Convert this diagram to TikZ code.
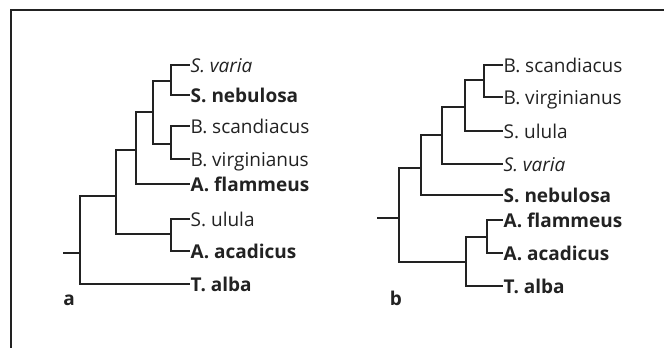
\documentclass[tikz,border=0pt]{standalone}
\usepackage{fontspec}
\setmainfont{Open Sans}
\usepackage{xcolor}
\definecolor{treegray}{HTML}{222222}

\tikzset{
  branch/.style={treegray, line width=1.3pt},
  taxon/.style={anchor=west, inner xsep=0.5pt, inner ysep=0pt, text height=14.5pt, text depth=0pt, text=treegray, font=\fontsize{19}{22}\selectfont},
  panel/.style={inner sep=0pt, text=treegray, font=\fontsize{19}{22}\selectfont\bfseries},
}

\begin{document}
\begin{tikzpicture}[x=1pt,y=-1pt]
        \useasboundingbox (0,0) rectangle (664,348);
        \draw[line width=1.3pt, treegray] (664,10) -- (11,10) -- (11,348);

        % tree a
        \node[taxon] (avar) at (190,65) {\itshape S. varia};
        \node[taxon] (aneb) at (190,95) {\bfseries S. nebulosa};
        \node[taxon] (asca) at (190,126) {B. scandiacus};
        \node[taxon] (avir) at (190,159) {B. virginianus};
        \node[taxon] (afla) at (190,184) {\bfseries A. flammeus};
        \node[taxon] (aulu) at (190,219) {S. ulula};
        \node[taxon] (aaca) at (190,251) {\bfseries A. acadicus};
        \node[taxon] (aalb) at (190,284) {\bfseries T. alba};
        \node[panel] (alab) at (69,300) {a};

        \coordinate (astub) at (63,253);
        \coordinate (aroot) at (80,253);
        \coordinate (a1) at (116,196);
        \coordinate (a2) at (136,150);
        \coordinate (a3) at (171,234);
        \coordinate (a4) at (153,112);
        \coordinate (a5) at (171,81);
        \coordinate (a6) at (171,144);

        \draw[branch] (astub) -- (aroot);
        \draw[branch] (aroot) |- (a1);
        \draw[branch] (aroot) |- (aalb.west);
        \draw[branch] (a1) |- (a2);
        \draw[branch] (a1) |- (a3);
        \draw[branch] (a3) |- (aulu.west);
        \draw[branch] (a3) |- (aaca.west);
        \draw[branch] (a2) |- (a4);
        \draw[branch] (a2) |- (afla.west);
        \draw[branch] (a4) |- (a5);
        \draw[branch] (a4) |- (a6);
        \draw[branch] (a5) |- (avar.west);
        \draw[branch] (a5) |- (aneb.west);
        \draw[branch] (a6) |- (asca.west);
        \draw[branch] (a6) |- (avir.west);

        % tree b
        \node[taxon] (bsca) at (503,65) {B. scandiacus};
        \node[taxon] (bvir) at (503,97) {B. virginianus};
        \node[taxon] (bulu) at (503,131) {S. ulula};
        \node[taxon] (bvar) at (503,164) {\itshape S. varia};
        \node[taxon] (bneb) at (503,195) {\bfseries S. nebulosa};
        \node[taxon] (bfla) at (503,220) {\bfseries A. flammeus};
        \node[taxon] (baca) at (503,253) {\bfseries A. acadicus};
        \node[taxon] (balb) at (503,286) {\bfseries T. alba};
        \node[panel] (blab) at (396,298) {b};

        \coordinate (bstub) at (377,218);
        \coordinate (broot) at (399,218);
        \coordinate (b1) at (421,168);
        \coordinate (b2) at (442,135);
        \coordinate (b3) at (465,107);
        \coordinate (b4) at (484,80);
        \coordinate (b5) at (466,262);
        \coordinate (b6) at (487,237);

        \draw[branch] (bstub) -- (broot);
        \draw[branch] (broot) |- (b1);
        \draw[branch] (broot) |- (b5);
        \draw[branch] (b1) |- (b2);
        \draw[branch] (b1) |- (bneb.west);
        \draw[branch] (b2) |- (b3);
        \draw[branch] (b2) |- (bvar.west);
        \draw[branch] (b3) |- (b4);
        \draw[branch] (b3) |- (bulu.west);
        \draw[branch] (b4) |- (bsca.west);
        \draw[branch] (b4) |- (bvir.west);
        \draw[branch] (b5) |- (b6);
        \draw[branch] (b5) |- (balb.west);
        \draw[branch] (b6) |- (bfla.west);
        \draw[branch] (b6) |- (baca.west);
\end{tikzpicture}
\end{document}
